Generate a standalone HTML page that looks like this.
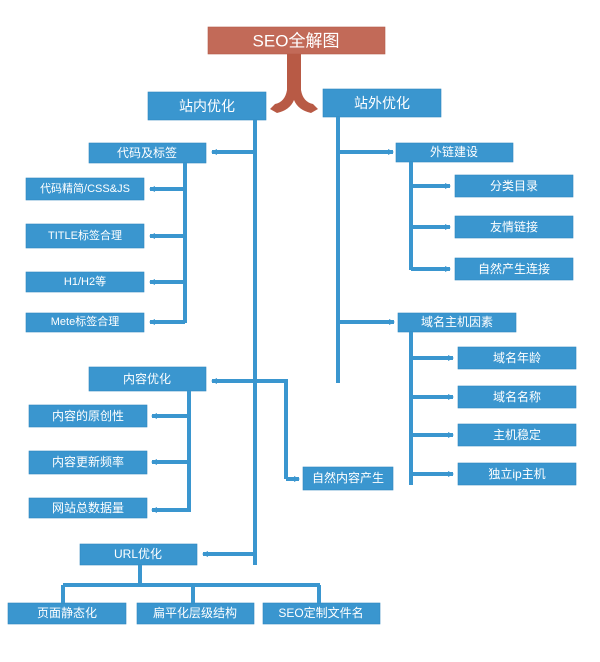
<!DOCTYPE html>
<html><head><meta charset="utf-8"><style>
html,body{margin:0;padding:0;background:#fff;width:600px;height:662px;overflow:hidden}
svg text{font-family:"Liberation Sans","Noto Sans CJK SC",sans-serif;fill:#fff;text-anchor:middle;dominant-baseline:central}
</style></head><body>
<svg width="600" height="662" viewBox="0 0 600 662" xmlns="http://www.w3.org/2000/svg">
<defs>
<marker id="a" markerWidth="6" markerHeight="6" refX="5" refY="3" orient="auto" markerUnits="userSpaceOnUse"><path d="M0,0 L6,3 L0,6 z" fill="#3a96cf"/></marker>
</defs>
<g fill="#3a96cf" stroke="#2f86bd" stroke-width="0.6">
<!-- title -->
<rect x="208" y="27" width="177" height="27" fill="#c26a58" stroke="#b25a48"/>
<rect x="148" y="92" width="118" height="28"/>
<rect x="323" y="89" width="118" height="28"/>
<rect x="89" y="143" width="117" height="20"/>
<rect x="26" y="178" width="118" height="22"/>
<rect x="26" y="224" width="118" height="24"/>
<rect x="26" y="272" width="118" height="20"/>
<rect x="26" y="313" width="118" height="19"/>
<rect x="396" y="143" width="117" height="19"/>
<rect x="455" y="175" width="118" height="22"/>
<rect x="455" y="216" width="118" height="22"/>
<rect x="455" y="258" width="118" height="22"/>
<rect x="398" y="313" width="118" height="19"/>
<rect x="458" y="347" width="118" height="22"/>
<rect x="458" y="386" width="118" height="22"/>
<rect x="458" y="424" width="118" height="22"/>
<rect x="458" y="463" width="118" height="22"/>
<rect x="89" y="367" width="117" height="24"/>
<rect x="29" y="405" width="118" height="22"/>
<rect x="29" y="451" width="118" height="23"/>
<rect x="29" y="498" width="118" height="20"/>
<rect x="303" y="467" width="90" height="23"/>
<rect x="80" y="544" width="117" height="21"/>
<rect x="8" y="603" width="118" height="21"/>
<rect x="137" y="603" width="117" height="21"/>
<rect x="263" y="603" width="117" height="21"/>
</g>
<!-- red arrow -->
<path d="M287,54 L301,54 L301,90 Q303,102 313,104 L318,109 L311,113 Q298,110 294,100 Q290,110 277,113 L270,109 L275,104 Q285,102 287,90 Z" fill="#b85a45"/>
<g stroke="#3a96cf" stroke-width="4" fill="none">
<line x1="255" y1="120" x2="255" y2="565"/>
<line x1="338" y1="117" x2="338" y2="383"/>
<line x1="185" y1="163" x2="185" y2="323"/>
<line x1="411" y1="162" x2="411" y2="270"/>
<line x1="411" y1="332" x2="411" y2="485"/>
<line x1="189" y1="391" x2="189" y2="512"/>
<line x1="255" y1="381" x2="286" y2="381"/>
<line x1="286" y1="379" x2="286" y2="479"/>
<line x1="140" y1="565" x2="140" y2="585"/>
<line x1="63" y1="585" x2="320" y2="585"/>
<line x1="63" y1="585" x2="63" y2="603"/>
<line x1="193" y1="585" x2="193" y2="603"/>
<line x1="319" y1="585" x2="319" y2="603"/>
</g>
<g stroke="#3a96cf" stroke-width="4" fill="none" marker-end="url(#a)">
<line x1="255" y1="152" x2="212" y2="152"/>
<line x1="185" y1="189" x2="150" y2="189"/>
<line x1="185" y1="236" x2="150" y2="236"/>
<line x1="185" y1="282" x2="150" y2="282"/>
<line x1="185" y1="322" x2="150" y2="322"/>
<line x1="338" y1="152" x2="393" y2="152"/>
<line x1="411" y1="186" x2="450" y2="186"/>
<line x1="411" y1="227" x2="450" y2="227"/>
<line x1="411" y1="269" x2="450" y2="269"/>
<line x1="338" y1="322" x2="394" y2="322"/>
<line x1="411" y1="358" x2="453" y2="358"/>
<line x1="411" y1="397" x2="453" y2="397"/>
<line x1="411" y1="435" x2="453" y2="435"/>
<line x1="411" y1="474" x2="453" y2="474"/>
<line x1="255" y1="381" x2="212" y2="381"/>
<line x1="189" y1="416" x2="152" y2="416"/>
<line x1="189" y1="462" x2="152" y2="462"/>
<line x1="189" y1="510" x2="152" y2="510"/>
<line x1="286" y1="479" x2="299" y2="479"/>
<line x1="255" y1="554" x2="203" y2="554"/>
</g>
<text x="296" y="41" font-size="17">SEO全解图</text>
<text x="207" y="106" font-size="14">站内优化</text>
<text x="382" y="103" font-size="14">站外优化</text>
<text x="147" y="153" font-size="12">代码及标签</text>
<text x="85" y="189" font-size="11">代码精简/CSS&amp;JS</text>
<text x="85" y="236" font-size="11">TITLE标签合理</text>
<text x="85" y="282" font-size="11">H1/H2等</text>
<text x="85" y="322" font-size="11">Mete标签合理</text>
<text x="454" y="152" font-size="12">外链建设</text>
<text x="514" y="186" font-size="12">分类目录</text>
<text x="514" y="227" font-size="12">友情链接</text>
<text x="514" y="269" font-size="12">自然产生连接</text>
<text x="457" y="322" font-size="12">域名主机因素</text>
<text x="517" y="358" font-size="12">域名年龄</text>
<text x="517" y="397" font-size="12">域名名称</text>
<text x="517" y="435" font-size="12">主机稳定</text>
<text x="517" y="474" font-size="12">独立ip主机</text>
<text x="147" y="379" font-size="12">内容优化</text>
<text x="88" y="416" font-size="12">内容的原创性</text>
<text x="88" y="462" font-size="12">内容更新频率</text>
<text x="88" y="508" font-size="12">网站总数据量</text>
<text x="348" y="478" font-size="12">自然内容产生</text>
<text x="138" y="554" font-size="12">URL优化</text>
<text x="67" y="613" font-size="12">页面静态化</text>
<text x="195" y="613" font-size="12">扁平化层级结构</text>
<text x="321" y="613" font-size="12">SEO定制文件名</text>
</svg>
</body></html>
